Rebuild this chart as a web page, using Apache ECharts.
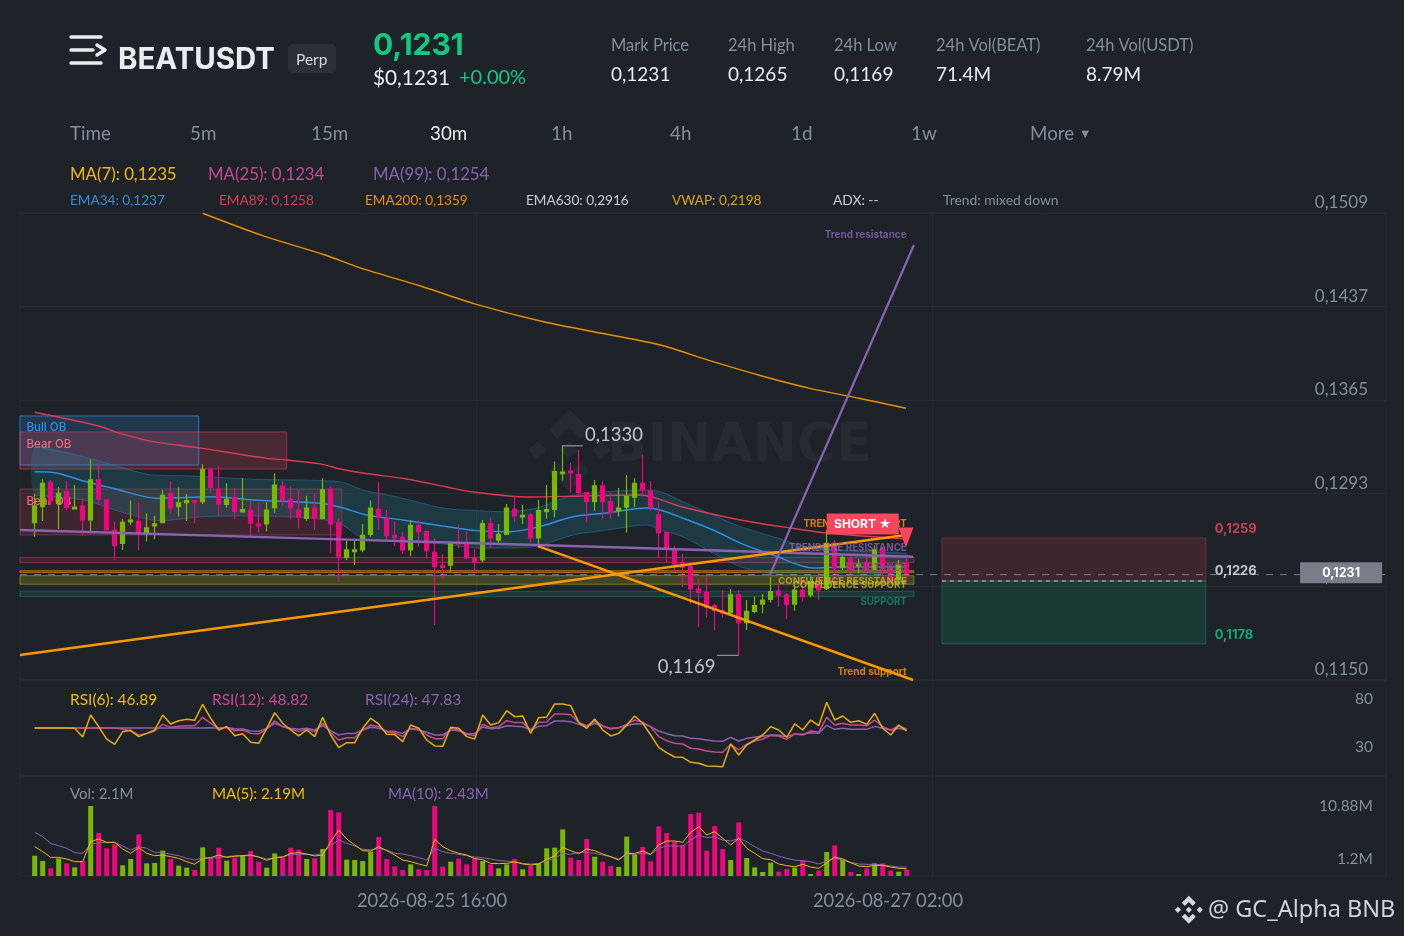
<!DOCTYPE html>
<html><head><meta charset="utf-8">
<style>html,body{margin:0;padding:0;background:#1e2229}#c{width:1404px;height:936px}</style>
<script src="https://cdn.jsdelivr.net/npm/echarts@6/dist/echarts.min.js"></script>
</head><body><div id="c"></div>
<script>
// Prices are in units of 0.0001 USDT.
const candleOpen=[1271.0,1283.3,1302.0,1285.8,1294.8,1281.5,1283.8,1273.0,1303.8,1288.4,1265.3,1255.1,1271.5,1272.0,1262.8,1268.4,1271.0,1293.3,1283.3,1286.3,1287.9,1287.1,1312.0,1296.8,1285.0,1290.2,1279.2,1280.7,1270.0,1270.0,1282.5,1299.1,1288.9,1280.7,1274.3,1282.2,1274.3,1296.8,1271.0,1244.3,1248.7,1250.0,1262.0,1281.2,1274.0,1261.2,1259.7,1250.0,1268.9,1264.0,1248.2,1238.2,1238.2,1256.1,1254.1,1244.1,1242.3,1270.2,1257.6,1262.0,1281.2,1275.3,1276.9,1259.2,1279.4,1281.2,1308.6,1310.7,1307.9,1294.0,1287.1,1299.2,1287.1,1280.2,1282.8,1290.5,1301.2,1295.3,1276.9,1263.3,1250.8,1240.2,1237.2,1220.0,1217.2,1207.2,1203.3,1201.8,1215.4,1194.1,1202.8,1208.4,1212.0,1218.4,1215.4,1208.4,1219.2,1215.4,1223.9,1220.2,1255.1,1236.4,1243.6,1237.4,1240.2,1235.1,1250.0,1235.9,1226.9,1239.2];
const candleClose=[1283.8,1301.2,1287.6,1293.5,1282.7,1283.0,1273.0,1303.8,1289.1,1265.3,1253.3,1271.2,1273.0,1263.3,1266.9,1270.0,1292.0,1282.5,1286.1,1287.9,1286.8,1312.0,1298.1,1285.3,1288.9,1279.4,1281.0,1270.5,1268.4,1280.7,1299.9,1288.9,1282.5,1275.1,1282.2,1274.3,1296.1,1270.0,1244.8,1250.0,1250.0,1261.2,1282.2,1275.1,1261.0,1259.4,1250.0,1268.9,1264.0,1249.4,1237.1,1236.4,1255.9,1254.6,1243.8,1240.5,1270.2,1259.2,1262.0,1282.2,1276.1,1276.6,1259.2,1280.2,1281.0,1310.2,1309.9,1309.2,1294.0,1287.1,1299.2,1287.1,1278.9,1282.2,1291.0,1301.2,1296.1,1283.3,1263.3,1250.8,1239.2,1236.6,1220.0,1217.4,1205.9,1203.3,1201.3,1215.4,1194.1,1202.8,1207.2,1211.5,1217.9,1215.4,1208.2,1219.2,1214.1,1225.6,1219.2,1255.1,1235.9,1244.3,1234.6,1239.0,1235.1,1250.0,1235.9,1226.9,1238.4,1231.5];
const candleLow=[1260.2,1272.2,1284.5,1266.1,1280.7,1281.2,1261.0,1263.3,1284.5,1265.3,1242.3,1250.0,1269.2,1250.0,1256.4,1258.2,1270.5,1278.1,1275.6,1272.2,1270.5,1285.3,1294.0,1275.6,1282.5,1273.5,1278.9,1260.2,1263.3,1264.3,1278.6,1284.3,1273.5,1266.4,1272.5,1265.3,1273.5,1247.9,1225.6,1242.3,1238.4,1248.2,1260.2,1265.3,1256.4,1253.0,1246.9,1245.3,1252.5,1243.0,1192.3,1228.2,1233.3,1251.2,1242.8,1232.5,1240.5,1251.2,1255.6,1261.5,1271.7,1269.9,1255.6,1252.0,1274.0,1275.1,1303.3,1294.0,1292.2,1271.0,1280.2,1274.0,1274.0,1275.6,1263.3,1282.8,1291.0,1280.0,1243.6,1240.5,1233.3,1221.3,1208.4,1190.5,1198.2,1188.5,1198.2,1199.5,1169.0,1188.5,1201.3,1201.3,1209.5,1206.4,1196.7,1203.3,1210.2,1213.6,1211.5,1219.2,1220.5,1234.6,1228.2,1232.0,1232.0,1234.6,1225.6,1225.6,1224.4,1225.6];
const candleHigh=[1293.0,1304.3,1303.8,1298.1,1303.2,1299.9,1289.7,1319.6,1316.6,1288.4,1271.7,1273.8,1287.9,1286.6,1278.1,1276.3,1296.1,1303.0,1297.9,1293.0,1288.4,1315.8,1312.7,1314.8,1301.2,1297.6,1305.0,1287.1,1285.8,1286.6,1308.9,1303.0,1298.6,1296.1,1291.7,1293.5,1305.0,1298.6,1274.0,1257.1,1257.6,1269.9,1288.1,1302.0,1280.7,1272.0,1264.0,1273.0,1273.0,1264.8,1259.2,1246.9,1256.4,1268.7,1264.0,1250.7,1273.0,1275.1,1269.9,1285.3,1291.5,1284.5,1278.1,1288.4,1299.9,1317.9,1330.0,1317.1,1326.8,1294.0,1303.8,1303.0,1293.5,1297.6,1307.6,1305.1,1323.0,1303.0,1287.1,1264.1,1253.3,1246.9,1239.2,1228.2,1230.2,1208.4,1219.2,1220.0,1219.2,1211.5,1214.1,1216.1,1229.5,1224.4,1216.6,1223.0,1226.9,1229.5,1232.0,1265.3,1257.6,1246.1,1245.4,1242.8,1247.9,1253.3,1252.5,1239.7,1242.3,1243.6];
const volumes=[4.01,3.27,2.26,3.64,2.95,2.40,3.27,10.88,7.15,5.03,5.58,2.68,3.55,6.96,2.95,3.00,4.70,3.55,2.63,2.35,2.03,5.16,3.64,5.12,3.32,3.74,4.10,4.66,3.18,2.35,4.33,3.78,5.12,4.84,3.55,3.64,4.93,10.33,10.01,3.46,3.41,3.27,4.57,6.59,3.55,2.54,2.03,2.81,2.12,2.03,10.88,2.49,3.18,3.60,2.81,3.64,3.27,2.81,2.26,2.81,3.55,2.12,2.58,2.95,5.03,5.12,7.65,3.74,3.41,6.32,3.87,3.18,2.58,2.44,6.64,4.20,5.21,3.23,8.07,7.15,5.95,5.49,9.77,9.96,4.70,8.12,4.93,3.41,8.62,3.69,2.40,1.75,3.04,1.80,2.17,2.35,3.37,1.48,1.94,4.52,5.44,3.46,1.75,1.48,2.26,2.95,2.95,1.94,1.80,2.08];
const volMA5=[5.26,4.57,3.78,3.78,3.55,3.18,3.18,5.95,6.32,5.86,5.86,4.93,4.33,5.12,4.33,4.01,4.10,3.87,3.64,3.18,2.81,3.64,3.74,4.10,3.78,3.92,4.01,4.10,3.83,3.37,3.74,3.83,4.33,4.43,4.24,3.97,4.10,5.95,7.56,6.32,5.49,4.70,4.66,5.26,4.70,4.10,3.41,3.18,2.86,2.58,6.27,5.26,4.70,4.33,4.10,3.60,3.46,2.95,2.91,2.95,3.14,2.86,2.72,2.86,3.51,3.97,5.16,4.70,4.29,4.93,4.70,4.24,3.87,3.41,4.33,4.33,4.66,4.20,5.49,6.04,6.04,5.86,7.24,8.02,6.87,7.33,6.41,5.49,6.41,5.03,4.33,3.60,3.46,2.86,2.63,2.49,2.81,2.44,2.26,3.04,3.83,3.55,3.04,2.58,2.49,2.68,2.68,2.44,2.26,2.19];
const volMA10=[7.24,6.64,5.72,5.40,5.03,4.43,4.33,5.58,5.81,5.81,5.86,5.35,4.80,5.26,5.03,4.47,4.47,4.20,4.01,3.64,3.41,3.69,3.64,3.78,3.87,4.01,4.01,4.01,3.83,3.55,3.74,3.87,4.10,4.20,4.20,4.10,4.33,5.40,6.18,5.72,5.35,4.89,4.80,5.03,4.80,4.33,4.24,4.01,3.74,3.41,5.03,4.57,4.33,4.20,4.01,3.83,3.74,3.55,3.32,3.27,3.18,2.95,2.86,2.95,3.32,3.64,4.33,4.20,4.47,4.47,4.33,4.10,3.87,3.55,4.20,4.20,4.33,4.20,5.03,5.35,5.35,5.35,6.18,6.87,6.50,6.64,6.18,6.04,6.41,5.95,5.26,4.66,4.33,3.97,3.64,3.41,3.32,3.18,2.86,3.27,3.64,3.41,3.09,2.86,2.81,2.81,2.72,2.58,2.44,2.43];
const rsi6=[50,50,50,50,50,49.7,40.6,63.5,51.4,38.5,33.0,46.2,47.6,41.0,44.4,47.9,63.5,54.2,57.6,59.0,58.0,74.7,60.1,47.9,51.4,42.0,44.1,35.1,34.0,49.7,66.0,54.9,47.9,41.7,47.9,41.0,61.1,42.7,29.5,34.7,34.7,49.7,60.1,54.2,43.4,43.1,35.8,53.1,49.7,37.5,31.3,30.9,50.7,49.7,41.0,38.5,63.5,53.1,55.6,68.0,61.8,62.5,44.4,60.8,61.5,75.0,75.0,73.3,55.9,49.7,59.4,47.9,41.7,44.4,53.1,62.5,54.9,42.7,29.9,24.3,19.8,19.5,14.3,13.2,10.4,10.1,9.7,33.3,21.9,32.3,37.5,42.7,51.4,47.9,40.3,54.2,47.9,58.3,52.4,76.7,58.3,62.5,55.9,57.6,53.8,65.3,49.7,42.7,53.1,46.9];
const rsi12=[50,50,50,50,50,50,50,50,50,50,50,49.0,46.9,42.7,44.1,46.9,53.8,50.7,51.7,52.4,52.4,61.1,54.9,49.7,50.7,47.2,47.9,44.4,43.8,48.6,57.3,51.4,48.6,46.5,48.6,46.2,54.9,45.1,37.5,39.9,39.9,47.9,53.1,51.4,45.5,45.1,41.0,49.7,48.6,42.7,38.9,38.9,49.7,47.9,43.4,42.0,53.8,50.3,51.4,57.6,55.6,55.6,47.9,55.9,56.2,64.6,64.6,63.9,55.9,52.4,57.3,52.4,49.0,50.3,53.8,58.3,55.9,51.4,41.0,36.8,34.0,33.3,28.8,28.1,26.0,25.0,24.7,33.0,27.1,33.3,36.5,38.5,42.0,41.7,38.2,43.8,42.7,46.9,45.5,61.1,53.1,54.9,53.1,53.1,52.4,58.3,51.4,47.9,52.1,48.8];
const rsi24=[50,50,50,50,50,50,50,50,50,50,50,50,50,50,50,50,50,50,50,50,50,50,50.3,49.7,50.7,49.0,49.0,46.9,46.5,49.7,54.9,51.4,49.7,48.6,49.7,47.9,52.4,47.2,42.7,44.4,44.4,47.9,50.7,49.7,46.9,46.5,44.4,49.0,47.9,45.5,42.7,42.7,47.9,47.2,44.4,44.1,51.0,49.3,49.7,52.4,51.7,51.4,47.9,51.7,52.4,57.3,57.3,56.6,53.8,51.4,54.9,51.7,49.7,50.3,52.4,54.5,54.2,51.4,46.9,44.1,42.0,41.7,39.2,38.9,37.5,36.5,36.1,40.3,36.5,39.2,40.3,41.3,42.7,42.4,41.0,43.8,43.4,45.1,44.4,52.8,48.6,49.7,48.6,48.6,48.6,51.7,49.7,47.6,49.7,47.8];

const ema34Idx=[0,2.75,6.1,9.8,15.25,22.3,27.3,35.7,38.2,41.5,46,51,55.3,59.4,62.9,67.3,71.5,76.5,78.2,81,84.8,88.2,92.3,97.3,100.7,109];
const ema34Val=[1310.1,1309.1,1303.0,1297.4,1289.7,1290.9,1288.4,1285.9,1282.8,1276.8,1273.0,1268.4,1264.8,1264.0,1267.6,1275.5,1278.4,1282.2,1280.7,1274.5,1265.3,1255.3,1246.1,1236.1,1236.9,1237.0];
const channelUpIdx=[0,6.1,9.8,14.8,19.8,27.3,38.2,41,45.3,51,55.3,58.5,62.8,66.9,71.5,76.5,78.2,81,84.8,88.2,92.3,97.3,109];
const channelUpVal=[1329.4,1321.7,1315.3,1307.6,1306.8,1304.3,1302.4,1296.1,1290.7,1282.2,1280.2,1279.4,1282.2,1291.5,1294.8,1296.1,1294.8,1287.1,1276.8,1267.9,1260.2,1251.5,1247.4];
const channelLowIdx=[0,6.1,10.7,15.7,21,27.3,34.8,38.2,41,45.3,51,55.3,59.4,62.9,67.3,71.5,76.5,78.2,81,84.8,88.2,91.6,97.3,109];
const channelLowVal=[1292.2,1288.4,1279.4,1272.5,1275.5,1276.1,1274.3,1269.9,1259.2,1256.3,1254.6,1251.5,1251.5,1253.0,1261.5,1265.3,1269.2,1265.3,1260.2,1247.6,1237.1,1232.3,1230.0,1233.0];
const ema89Idx=[0,8,10.25,14.8,20.3,29,31.5,35.7,38.2,41,46.5,51.5,54.8,61.9,68.5,75.7,81,88.2,94.4,99,109];
const ema89Val=[1355.8,1345.3,1340.4,1333.2,1328.6,1320.4,1319.1,1316.1,1312.2,1309.1,1304.5,1298.4,1294.5,1290.7,1291.5,1292.2,1283.0,1273.0,1266.9,1263.0,1258.4];
const ema200Idx=[21,28.5,36.3,40.6,48.5,55.1,63.6,71.5,78.2,84.8,90.9,96.9,103,108.9];
const ema200Val=[1508.8,1491.6,1476.7,1467.0,1452.3,1439.0,1425.4,1415.8,1407.5,1394.7,1383.7,1374.2,1366.6,1358.9];
const flatTrendIdx=[-1.84,38.2,62.8,76.5,109.8];
const flatTrendVal=[1265.3,1258.1,1253.8,1251.3,1244.8];
const riseTrendIdx=[-1.84,108.9];
const riseTrendVal=[1169.2,1261.5];
const fallTrendIdx=[62.9,109.8];
const fallTrendVal=[1253.0,1150.0];
const steepTrendIdx=[91.9,109.9];
const steepTrendVal=[1230.7,1484.4];

const priceTicks=[1150,1221.8,1293.6,1365.4,1437.2,1509];
const rsiTicks=[30,80];
const volTicks=[1.2,10.88];
const gridLineIdx=[55.16,112.16];
const dateTickIdx=[49.66,106.66];
const dateLabels=['2026-08-25 16:00','2026-08-27 02:00'];

const COL={bg:'#1e2229',grid:'#272c34',up:'#76b900',down:'#f0047f',text:'#848e9c',light:'#eaecef',green:'#0ecb81',red:'#f6465d',
 yellow:'#f0b90b',pink:'#c9488f',purple:'#8a63b0',blue:'#2e8fe6',ema89:'#dd3b52',orange:'#ff9800'};
const FONT='Lato, "Noto Sans", sans-serif';
const FONT_BOLD='Inter, "Noto Sans", sans-serif';

const X_MIN=-1.8375,X_MAX=168.91,LAST=109.9,BOX_A=113.4,BOX_B=146.4;
const pairs=(a,b)=>a.map((v,i)=>[v,b[i]]);
const idx=candleOpen.map((_,i)=>i);

const bands=[
 {a:X_MIN,b:LAST,hi:1244.2,lo:1240.3,fill:'rgba(246,70,93,.13)',line:'rgba(246,70,93,.45)'},
 {a:X_MIN,b:LAST,hi:1234.0,lo:1232.7,fill:'rgba(255,152,0,.25)',line:'rgba(255,152,0,.6)'},
 {a:X_MIN,b:LAST,hi:1230.2,lo:1223.6,fill:'rgba(205,210,40,.2)',line:'rgba(205,210,40,.45)'},
 {a:X_MIN,b:LAST,hi:1218.2,lo:1214.1,fill:'rgba(14,203,129,.13)',line:'rgba(14,203,129,.3)'},
 {a:X_MIN,b:20.5,hi:1353.0,lo:1315.3,fill:'rgba(46,143,230,.2)',line:'rgba(46,143,230,.75)',text:'Bull OB',col:'#2e8fe6',pad:[1,0,0,2]},
 {a:X_MIN,b:31.5,hi:1340.7,lo:1312.2,fill:'rgba(246,70,93,.2)',line:'rgba(246,70,93,.5)',text:'Bear OB',col:'#ef6a7c',pad:[2,0,0,2]},
 {a:X_MIN,b:38.4,hi:1296.8,lo:1261.5,fill:'rgba(246,70,93,.14)',line:'rgba(246,70,93,.4)',text:'Bear OB',col:'#ef6a7c',pad:[2,0,0,2]},
 {a:BOX_A,b:BOX_B,hi:1259.2,lo:1226.1,fill:'rgba(246,70,93,.15)',line:'rgba(246,70,93,.3)'},
 {a:BOX_A,b:BOX_B,hi:1226.1,lo:1177.7,fill:'rgba(14,203,129,.15)',line:'rgba(14,203,129,.3)'}
];
const notes=[
 {x:109,y:1492.1,t:'Trend resistance',c:COL.purple},
 {x:109,y:1269.9,t:'TRENDLINE SUPPORT',c:COL.orange,s:9.7},
 {x:109,y:1251.5,t:'TRENDLINE RESISTANCE',c:COL.purple,s:9.7},
 {x:109,y:1236.2,t:'RESISTANCE',c:'#a5476b',s:9.7},
 {x:109,y:1226.1,t:'CONFLUENCE RESISTANCE',c:'#c9b52a',s:9.6},
 {x:109,y:1223.1,t:'CONFLUENCE SUPPORT',c:'#c9b52a',s:9.6},
 {x:109,y:1210.0,t:'SUPPORT',c:'#0f8f6b',s:9.7},
 {x:109,y:1156.2,t:'Trend support',c:COL.orange},
 {x:147.5,y:1266.2,t:'0,1259',c:COL.red,side:'left',s:13,fam:FONT_BOLD},
 {x:147.5,y:1233.5,t:'0,1226',c:COL.light,side:'left',s:13,fam:FONT_BOLD},
 {x:147.5,y:1184.7,t:'0,1178',c:COL.green,side:'left',s:13,fam:FONT_BOLD},
 {x:68.8,y:1338.2,t:'0,1330',c:COL.light,side:'left',s:18.5,w:'normal',fam:FONT},
 {x:85.1,y:1160.0,t:'0,1169',c:COL.light,side:'right',s:18.5,w:'normal',fam:FONT}
];

const line=(name,a,b,color,width,extra)=>Object.assign({type:'line',name,data:pairs(a,b),showSymbol:false,symbol:'none',silent:true,z:3,
  lineStyle:{color,width},xAxisIndex:0,yAxisIndex:0},extra||{});

const T=(x,y,text,size,fill,o)=>({type:'text',x,y:y+((o&&o.fam)?0:1),z:50,silent:true,style:{text,fill,font:(o&&o.w||'normal')+' '+size+'px '+(o&&o.fam||FONT),verticalAlign:'middle',align:'left'}});
const LOGO_PARTS=[[[12,2],[17,7],[14.8,9.2],[12,6.4],[9.2,9.2],[7,7]],[[12,22],[7,17],[9.2,14.8],[12,17.6],[14.8,14.8],[17,17]],[[2,12],[4.2,9.8],[6.4,12],[4.2,14.2]],[[17.6,12],[19.8,9.8],[22,12],[19.8,14.2]],[[12,9.8],[14.2,12],[12,14.2],[9.8,12]]];
const logo=(x,y,s,fill,z)=>LOGO_PARTS.map(p=>({type:'polygon',z,silent:true,shape:{points:p.map(q=>[x+q[0]*s,y+q[1]*s])},style:{fill}}));
const stroke=(points)=>({type:'polyline',z:50,silent:true,shape:{points},style:{fill:null,stroke:'#eaecef',lineWidth:3.4,lineCap:'round',lineJoin:'round'}});
const BOLD={w:'bold',fam:FONT_BOLD};
const header=[
 stroke([[71,37],[101,37]]),stroke([[71,50],[93,50]]),stroke([[97,45],[105,50],[97,55]]),stroke([[71,63],[101,63]]),
 T(118,60,'BEATUSDT',29.4,'#eaecef',BOLD),
 {type:'rect',z:50,silent:true,shape:{x:288,y:44,width:48,height:29,r:4},style:{fill:'#2b3038'}},
 T(296,59,'Perp',15.5,'#d5d9de'),
 T(373,46,'0,1231',30,COL.green,BOLD),
 T(373,77,'$0,1231',20.8,'#eaecef'),
 T(459,77,'+0.00%',20,COL.green),
 T(611,44.5,'Mark Price',16.5,COL.text),T(611,73.5,'0,1231',19,'#eaecef'),
 T(728,44.5,'24h High',16.5,COL.text),T(728,73.5,'0,1265',19,'#eaecef'),
 T(834,44.5,'24h Low',16.5,COL.text),T(834,73.5,'0,1169',19,'#eaecef'),
 T(936,44.5,'24h Vol(BEAT)',16.5,COL.text),T(936,73.5,'71.4M',19,'#eaecef'),
 T(1086,44.5,'24h Vol(USDT)',16.5,COL.text),T(1086,73.5,'8.79M',19,'#eaecef'),
 T(70,132.5,'Time',18.8,COL.text),T(190,132.5,'5m',18.8,COL.text),T(311,132.5,'15m',18.8,COL.text),T(430,132.5,'30m',18.8,'#eaecef'),
 T(551,132.5,'1h',18.8,COL.text),T(670,132.5,'4h',18.8,COL.text),T(791,132.5,'1d',18.8,COL.text),T(911,132.5,'1w',18.8,COL.text),T(1030,132.5,'More',18.8,COL.text),T(1079,132.5,'▼',12.5,COL.text),
 T(70,173.5,'MA(7): 0,1235',16.8,COL.yellow),T(208,173.5,'MA(25): 0,1234',16.8,COL.pink),T(373,173.5,'MA(99): 0,1254',16.8,COL.purple),
 T(70,199.5,'EMA34: 0,1237',13.6,COL.blue),T(219,199.5,'EMA89: 0,1258',13.6,COL.ema89),T(365,199.5,'EMA200: 0,1359',13.6,'#ef8f00'),
 T(526,199.5,'EMA630: 0,2916',13.6,'#c9cdd3'),T(672,199.5,'VWAP: 0,2198',13.6,'#d9a520'),T(833,199.5,'ADX: --',13.8,'#c9cdd3'),T(943,199.5,'Trend: mixed down',13.9,COL.text),
 T(70,698.5,'RSI(6): 46.89',15.5,COL.yellow),T(212,698.5,'RSI(12): 48.82',15.5,COL.pink),T(365,698.5,'RSI(24): 47.83',15.5,COL.purple),
 T(70,793.5,'Vol: 2.1M',15,COL.text),T(212,793.5,'MA(5): 2.19M',15.2,COL.yellow),T(388,793.5,'MA(10): 2.43M',15,COL.purple),
 ...logo(520,401,4.1,'#262b32',1),
 {type:'text',z:1,silent:true,x:607,y:447,style:{text:'BINANCE',fill:'#262b32',font:'bold 53px "DejaVu Sans", sans-serif',verticalAlign:'middle'}},
 ...logo(1172,893,1.4,'#d5d8dc',50),
 {type:'text',z:50,silent:true,x:1208,y:910,style:{text:'@ GC_Alpha BNB',fill:'#cfd2d6',font:'23.5px "Noto Sans", sans-serif',verticalAlign:'middle'}}
];

const grids=[{left:20,right:18,top:213,height:467},{left:20,right:18,top:680,height:96},{left:20,right:18,top:776,height:100}];
const xAxisBase=i=>({type:'value',gridIndex:i,min:X_MIN,max:X_MAX,axisLine:{show:false},
  axisTick:{show:false,customValues:gridLineIdx},splitLine:{show:true,lineStyle:{color:COL.grid,width:1}},
  axisLabel:{show:false,customValues:dateTickIdx}});
const yStyle={show:true,color:COL.text,fontFamily:FONT,inside:true};

const option={
 backgroundColor:COL.bg,animation:false,grid:grids.map(g=>Object.assign({show:true,borderColor:COL.grid,borderWidth:1,backgroundColor:'transparent'},g)),
 xAxis:[xAxisBase(0),xAxisBase(1),Object.assign(xAxisBase(2),{axisLabel:{show:true,customValues:dateTickIdx,color:COL.text,fontSize:18.3,fontFamily:FONT,margin:16,
   formatter:v=>dateLabels[dateTickIdx.indexOf(v)]||''}})],
 yAxis:[
  {type:'value',gridIndex:0,position:'right',min:1150,max:1509,axisLine:{show:false},axisTick:{show:false,customValues:priceTicks},
   splitLine:{show:true,lineStyle:{color:COL.grid}},
   axisLabel:Object.assign({},yStyle,{fontSize:17,margin:18,customValues:priceTicks,verticalAlign:'bottom',padding:[0,0,1.5,0],showMinLabel:true,showMaxLabel:true,hideOverlap:false,
     formatter:v=>'0,'+Math.floor(v)})},
  {type:'value',gridIndex:1,position:'right',min:0,max:100,axisLine:{show:false},axisTick:{show:false,customValues:rsiTicks},splitLine:{show:false},
   axisLabel:Object.assign({},yStyle,{fontSize:15.5,margin:13,customValues:rsiTicks})},
  {type:'value',gridIndex:2,position:'right',min:1.2,max:15.03,axisLine:{show:false},axisTick:{show:false,customValues:volTicks},splitLine:{show:false},
   axisLabel:Object.assign({},yStyle,{fontSize:15.5,margin:13,customValues:volTicks,showMinLabel:true,formatter:v=>v<2?'{low|1.2M}':'10.88M',rich:{low:{padding:[0,0,34,0],fontSize:15.5,color:COL.text,fontFamily:FONT}}})}
 ],
 graphic:header,
 series:[
  {type:'line',name:'zones',data:[[X_MIN,1509]],symbol:'none',silent:true,z:1,lineStyle:{width:0},xAxisIndex:0,yAxisIndex:0,
   markArea:{silent:true,data:bands.map(b=>[{xAxis:b.a,yAxis:b.hi,itemStyle:{color:b.fill,borderColor:b.line,borderWidth:1},
     label:b.text?{show:true,position:'insideTopLeft',formatter:b.text,color:b.col,fontSize:11.5,fontFamily:FONT_BOLD,fontWeight:500,padding:b.pad}:{show:false}},{xAxis:b.b,yAxis:b.lo}])}},
  {type:'custom',name:'EMA34 channel',silent:true,z:1,xAxisIndex:0,yAxisIndex:0,
   data:pairs(channelUpIdx,channelUpVal).concat(pairs(channelLowIdx,channelLowVal).reverse()),
   renderItem:(p,api)=>{ if(p.dataIndex!==0) return null;
     const pts=pairs(channelUpIdx,channelUpVal).concat(pairs(channelLowIdx,channelLowVal).reverse()).map(d=>api.coord(d));
     return {type:'polygon',shape:{points:pts,smooth:0.2},style:{fill:'rgba(28,140,150,.24)'},silent:true};}},
  line('channel up',channelUpIdx,channelUpVal,'rgba(46,120,190,.5)',1,{smooth:0.3}),
  line('channel low',channelLowIdx,channelLowVal,'rgba(46,120,190,.5)',1,{smooth:0.3}),
  line('EMA34',ema34Idx,ema34Val,COL.blue,1.4,{smooth:0.3}),
  line('EMA89',ema89Idx,ema89Val,COL.ema89,1.4,{smooth:0.3}),
  line('EMA200',ema200Idx,ema200Val,'#ef8f00',1.4,{smooth:0.3}),
  {type:'candlestick',name:'BEATUSDT',data:idx.map(i=>[i,candleOpen[i],candleClose[i],candleLow[i],candleHigh[i]]),barWidth:5,z:4,silent:true,clip:true,
   itemStyle:{color:COL.up,color0:COL.down,borderColor:COL.up,borderColor0:COL.down,borderColorDoji:COL.up,borderWidth:1.2},xAxisIndex:0,yAxisIndex:0},
  line('flat trend',flatTrendIdx,flatTrendVal,COL.purple,2.4,{z:5}),
  line('rising trend',riseTrendIdx,riseTrendVal,COL.orange,2.4,{z:5}),
  line('falling trend',fallTrendIdx,fallTrendVal,COL.orange,2.4,{z:5}),
  line('steep trend',steepTrendIdx,steepTrendVal,COL.purple,2.2,{z:5}),
  line('last price',[X_MIN,X_MAX],[1231,1231],'rgba(180,184,190,.6)',1,{z:5,lineStyle:{color:'rgba(180,184,190,.6)',width:1,type:[7,7]}}),
  line('entry',[BOX_A,BOX_B],[1226.1,1226.1],'#c9d2d0',1,{z:5,lineStyle:{color:'#c9d2d0',width:1,type:[4,4]}}),
  line('high leader',[65.9,68.5],[1330,1330],'#a8acb2',1,{z:5}),
  line('low leader',[85.3,88],[1169,1169],'#a8acb2',1,{z:5}),
  {type:'scatter',name:'notes',symbolSize:0,z:6,silent:true,xAxisIndex:0,yAxisIndex:0,
   data:notes.map(n=>({value:[n.x,n.y],label:{show:true,position:n.side==='left'?'right':'left',distance:0,formatter:n.t,color:n.c,fontSize:n.s||10,fontFamily:n.fam||FONT_BOLD,fontWeight:n.w||'bold'}})),
   markPoint:{silent:true,z:8,data:[
    {coord:[103.5,1270.0],symbol:'rect',symbolSize:[72,21],itemStyle:{color:COL.red},label:{show:true,position:'inside',formatter:'SHORT ★',color:'#fff',fontSize:12,fontWeight:'bold',fontFamily:FONT_BOLD}},
    {coord:[108.9,1259.6],symbol:'triangle',symbolRotate:180,symbolSize:[15,20],itemStyle:{color:COL.red},label:{show:false}},
    {coord:[163.3,1232.4],symbol:'rect',symbolSize:[82,21],itemStyle:{color:'#7a7e8a'},label:{show:true,position:'inside',formatter:'0,1231',color:'#fff',fontSize:12.5,fontWeight:'bold',fontFamily:FONT_BOLD}}
   ]}},
  {type:'line',name:'RSI(24)',data:pairs(idx,rsi24),xAxisIndex:1,yAxisIndex:1,symbol:'none',silent:true,lineStyle:{color:COL.purple,width:1.5},z:3},
  {type:'line',name:'RSI(12)',data:pairs(idx,rsi12),xAxisIndex:1,yAxisIndex:1,symbol:'none',silent:true,lineStyle:{color:COL.pink,width:1.5},z:3},
  {type:'line',name:'RSI(6)',data:pairs(idx,rsi6),xAxisIndex:1,yAxisIndex:1,symbol:'none',silent:true,lineStyle:{color:'#e5ad0c',width:1.5},z:3},
  {type:'bar',name:'Vol',barWidth:5,silent:true,z:2,xAxisIndex:2,yAxisIndex:2,
   data:idx.map(i=>({value:[i,volumes[i]],itemStyle:{color:candleClose[i]>=candleOpen[i]?COL.up:COL.down}}))},
  {type:'line',name:'MA(10)',data:pairs(idx,volMA10),xAxisIndex:2,yAxisIndex:2,symbol:'none',silent:true,lineStyle:{color:COL.purple,width:1},z:3},
  {type:'line',name:'MA(5)',data:pairs(idx,volMA5),xAxisIndex:2,yAxisIndex:2,symbol:'none',silent:true,lineStyle:{color:COL.yellow,width:1},z:3}
 ]
};
const chart=echarts.init(document.getElementById('c'),null,{renderer:'canvas',width:1404,height:936});
chart.setOption(option);
</script></body></html>
